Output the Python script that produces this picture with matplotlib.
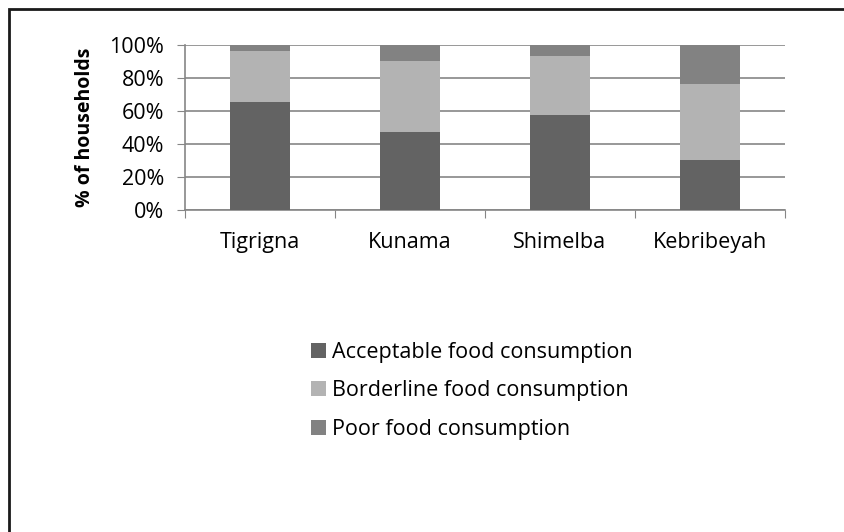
import matplotlib.pyplot as plt
import numpy as np
from matplotlib.patches import Rectangle

plt.rcParams['font.family'] = ['Open Sans', 'DejaVu Sans']

groups = ['Tigrigna', 'Kunama', 'Shimelba', 'Kebribeyah']
acceptable = [65.4, 47.2, 57.7, 30.1]
borderline = [31.3, 43.0, 36.0, 46.3]
poor = [3.3, 9.8, 6.3, 23.6]
y_ticks = [0, 20, 40, 60, 80, 100]

fig = plt.figure(figsize=(8.44, 5.32), dpi=100)
ax = fig.add_axes([0.219, 0.605, 0.711, 0.31])

x = np.arange(len(groups))
w = 0.4
b1 = np.array(acceptable)
b2 = b1 + np.array(borderline)
ax.bar(x, acceptable, w, color='#636363', label='Acceptable food consumption', zorder=3)
ax.bar(x, borderline, w, bottom=b1, color='#b3b3b3', label='Borderline food consumption', zorder=3)
ax.bar(x, poor, w, bottom=b2, color='#828282', label='Poor food consumption', zorder=3)

ax.set_xlim(-0.5, len(groups) - 0.5)
ax.set_ylim(0, 100)
ax.set_yticks(y_ticks)
ax.set_yticklabels([f'{v}%' for v in y_ticks], fontsize=15.5)
ax.yaxis.grid(True, color='#868686', linewidth=1.2, zorder=0)

# category ticks sit between the bars
ax.set_xticks(np.arange(-0.5, len(groups)), minor=False)
ax.set_xticklabels([])
ax.set_xticks(x, minor=True)
ax.set_xticklabels(groups, minor=True, fontsize=15.5)
ax.tick_params(axis='x', which='minor', length=0, pad=16)
ax.tick_params(axis='x', which='major', length=6, color='#868686', direction='out')
ax.tick_params(axis='y', length=6, color='#868686', direction='out', pad=9)

for s in ['top', 'right']:
    ax.spines[s].set_visible(False)
for s in ['left', 'bottom']:
    ax.spines[s].set_color('#868686')
    ax.spines[s].set_linewidth(1.2)

ax.set_ylabel('% of households', fontsize=14, fontweight='bold', labelpad=10)

fig.legend(loc='upper left', bbox_to_anchor=(0.356, 0.378), frameon=False,
           fontsize=15.5, handlelength=0.68, handleheight=0.68, handletextpad=0.3,
           labelspacing=0.82, borderpad=0)

# outer frame (only left and top edges show)
fig.add_artist(Rectangle((8.5 / 844, -0.05), 1.2, 1.05 - 8.5 / 532,
                         transform=fig.transFigure, fill=False,
                         edgecolor='#1a1a1a', linewidth=2))

fig.savefig('out.png', dpi=100)
